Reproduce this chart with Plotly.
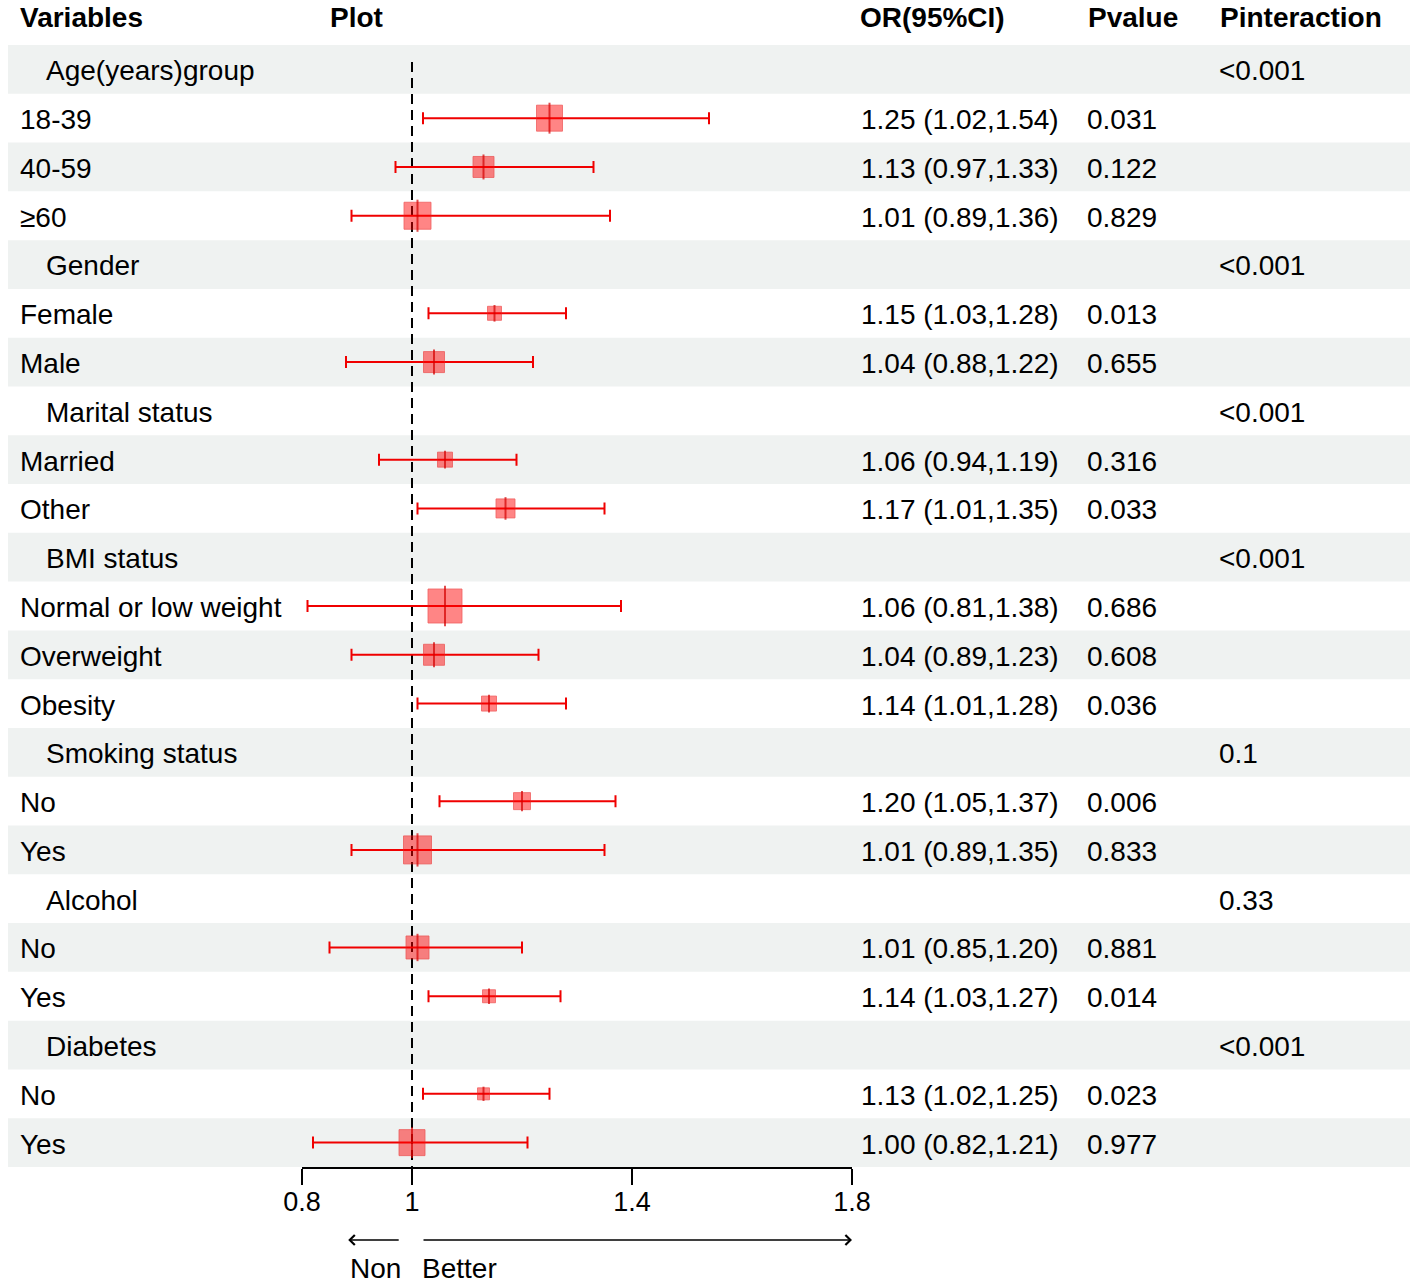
import plotly.graph_objects as go

# ---------------- data ----------------
variables = ["Age(years)group", "18-39", "40-59", "≥60",
             "Gender", "Female", "Male",
             "Marital status", "Married", "Other",
             "BMI status", "Normal or low weight", "Overweight", "Obesity",
             "Smoking status", "No", "Yes",
             "Alcohol", "No", "Yes",
             "Diabetes", "No", "Yes"]
is_group = [True, False, False, False,
            True, False, False,
            True, False, False,
            True, False, False, False,
            True, False, False,
            True, False, False,
            True, False, False]
or_vals = [None, 1.25, 1.13, 1.01,
           None, 1.15, 1.04,
           None, 1.06, 1.17,
           None, 1.06, 1.04, 1.14,
           None, 1.20, 1.01,
           None, 1.01, 1.14,
           None, 1.13, 1.00]
ci_low = [None, 1.02, 0.97, 0.89,
          None, 1.03, 0.88,
          None, 0.94, 1.01,
          None, 0.81, 0.89, 1.01,
          None, 1.05, 0.89,
          None, 0.85, 1.03,
          None, 1.02, 0.82]
ci_high = [None, 1.54, 1.33, 1.36,
           None, 1.28, 1.22,
           None, 1.19, 1.35,
           None, 1.38, 1.23, 1.28,
           None, 1.37, 1.35,
           None, 1.20, 1.27,
           None, 1.25, 1.21]
pvalues = ["", "0.031", "0.122", "0.829",
           "", "0.013", "0.655",
           "", "0.316", "0.033",
           "", "0.686", "0.608", "0.036",
           "", "0.006", "0.833",
           "", "0.881", "0.014",
           "", "0.023", "0.977"]
pinteraction = ["<0.001", "", "", "",
                "<0.001", "", "",
                "<0.001", "", "",
                "<0.001", "", "", "",
                "0.1", "", "",
                "0.33", "", "",
                "<0.001", "", ""]
# relative box weights
weights = [None, 26, 21, 27,
           None, 14, 21,
           None, 15, 19,
           None, 34, 21, 15,
           None, 17, 28,
           None, 23, 13,
           None, 12, 26]
headers = ["Variables", "Plot", "OR(95%CI)", "Pvalue", "Pinteraction"]
tick_vals = [0.8, 1, 1.4, 1.8]
tick_text = ["0.8", "1", "1.4", "1.8"]
ref_value = 1.0
arrow_labels = ["Non", "Better"]

# ---------------- layout helpers ----------------
W, H = 1417, 1286
FONT = "Arial, Liberation Sans, Helvetica, sans-serif"
n = len(variables)


def px(xp):
    return xp / W


def py(yp):
    return 1 - yp / H


rows = list(range(n))
idx = [i for i in rows if or_vals[i] is not None]
ors = [or_vals[i] for i in idx]
ys = [i for i in idx]
err_p = [round(ci_high[i] - or_vals[i], 4) for i in idx]
err_m = [round(or_vals[i] - ci_low[i], 4) for i in idx]
BOX_SCALE = 1.0
sizes = [weights[i] * BOX_SCALE for i in idx]
or_text = [f"{or_vals[i]:.2f} ({ci_low[i]:.2f},{ci_high[i]:.2f})" for i in idx]

fig = go.Figure()

# reference line
fig.add_trace(go.Scatter(
    x=[ref_value, ref_value], y=[-0.15, n - 0.5], mode="lines",
    line=dict(color="black", width=2, dash="10px,6px"),
    hoverinfo="skip", showlegend=False, cliponaxis=False))

# CI + boxes
fig.add_trace(go.Scatter(
    x=ors, y=ys, mode="markers",
    marker=dict(symbol="square", size=sizes, color="rgba(255,0,0,0.68)",
                line=dict(width=1, color="rgba(235,30,30,0.8)")),
    error_x=dict(type="data", symmetric=False, array=err_p, arrayminus=err_m,
                 color="#f00000", thickness=2, width=6),
    showlegend=False, cliponaxis=False))

# point estimate tick inside box
fig.add_trace(go.Scatter(
    x=ors, y=ys, mode="markers",
    marker=dict(symbol="line-ns", size=[s * 0.85 for s in sizes],
                color="#d40000", line=dict(color="#d40000", width=2)),
    showlegend=False, cliponaxis=False, hoverinfo="skip"))

shapes = []
for i in rows:
    if i % 2 == 0:
        shapes.append(dict(type="rect", xref="paper", yref="y",
                           x0=px(8), x1=px(1410), y0=i - 0.5, y1=i + 0.5,
                           fillcolor="#eff2f1", line=dict(width=0),
                           layer="below"))

annotations = []
tf = dict(family=FONT, size=28, color="black")
header_x = [18, 328, 858, 1086, 1218]
for hx, h in zip(header_x, headers):
    annotations.append(dict(text=f"<b>{h}</b>", x=px(hx), y=py(18),
                            xref="paper", yref="paper", xanchor="left",
                            yanchor="middle", showarrow=False,
                            font=dict(family=FONT, size=28, color="black")))
for i in rows:
    annotations.append(dict(text=variables[i],
                            x=px(44 if is_group[i] else 18), y=i + 0.03,
                            xref="paper", yref="y", xanchor="left",
                            yanchor="middle", showarrow=False, font=tf))
    if pvalues[i]:
        annotations.append(dict(text=pvalues[i], x=px(1085), y=i + 0.03,
                                xref="paper", yref="y", xanchor="left",
                                yanchor="middle", showarrow=False, font=tf))
    if pinteraction[i]:
        annotations.append(dict(text=pinteraction[i], x=px(1217), y=i + 0.03,
                                xref="paper", yref="y", xanchor="left",
                                yanchor="middle", showarrow=False, font=tf))
for i, t in zip(idx, or_text):
    annotations.append(dict(text=t, x=px(859), y=i + 0.03,
                            xref="paper", yref="y", xanchor="left",
                            yanchor="middle", showarrow=False, font=tf))

# direction arrows
annotations.append(dict(text="", x=0.884, y=py(1240), xref="x", yref="paper",
                        ax=52, ay=0, axref="pixel", ayref="pixel",
                        showarrow=True, arrowhead=4, arrowsize=1.3,
                        arrowwidth=1.5, arrowcolor="black", standoff=0))
annotations.append(dict(text="", x=1.8, y=py(1240), xref="x", yref="paper",
                        ax=-430, ay=0, axref="pixel", ayref="pixel",
                        showarrow=True, arrowhead=4, arrowsize=1.3,
                        arrowwidth=1.5, arrowcolor="black", standoff=0))
annotations.append(dict(text=arrow_labels[0], x=px(348), y=py(1268),
                        xref="paper", yref="paper", xanchor="left",
                        yanchor="middle", showarrow=False, font=tf))
annotations.append(dict(text=arrow_labels[1], x=px(420), y=py(1268),
                        xref="paper", yref="paper", xanchor="left",
                        yanchor="middle", showarrow=False, font=tf))

fig.update_layout(
    width=W, height=H, margin=dict(l=0, r=0, t=0, b=0, pad=0, autoexpand=False),
    paper_bgcolor="white", plot_bgcolor="rgba(0,0,0,0)",
    shapes=shapes, annotations=annotations, showlegend=False,
    xaxis=dict(domain=[px(302), px(852)], range=[0.8, 1.8],
               tickvals=tick_vals, ticktext=tick_text,
               showline=True, linecolor="black", linewidth=2,
               ticks="outside", ticklen=16, tickwidth=2, tickcolor="black",
               ticklabelstandoff=-6,
               showgrid=False, zeroline=False, automargin=False,
               tickfont=dict(family=FONT, size=27, color="black")),
    yaxis=dict(domain=[py(1167), py(45)], range=[n - 0.5, -0.5],
               visible=False, showgrid=False, zeroline=False, automargin=False),
)

post = """
document.body.style.margin = '0';
document.body.style.padding = '0';
document.body.style.overflow = 'hidden';
"""
fig.write_html("out.html", post_script=post,
               config={"displayModeBar": False, "staticPlot": True})
